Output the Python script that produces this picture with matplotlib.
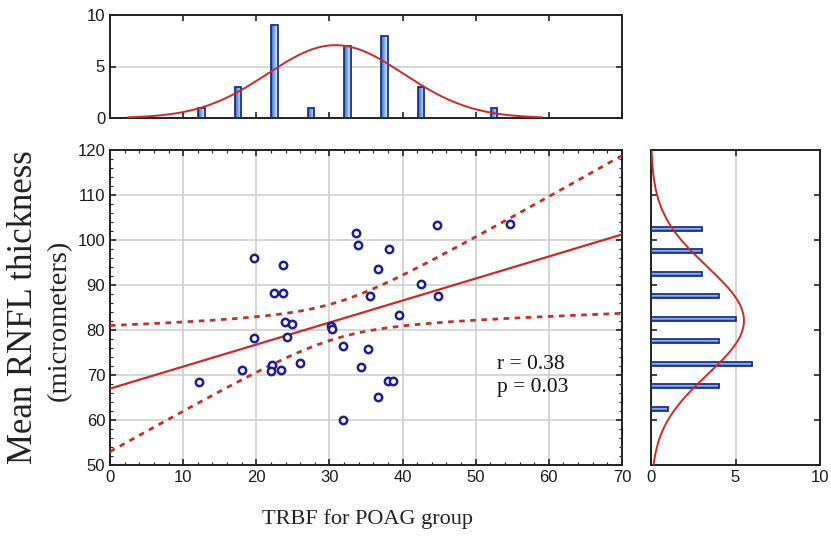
import numpy as np
import matplotlib
matplotlib.use("Agg")
import matplotlib.pyplot as plt
from matplotlib.ticker import AutoMinorLocator
from matplotlib.colors import LinearSegmentedColormap

# ---- data ----
trbf = [19.7, 23.7, 22.4, 23.6, 23.9, 24.9, 19.7, 24.2, 26.0, 18.1, 22.1, 22.0, 23.4, 12.2,
        33.6, 33.9, 44.7, 54.7, 38.2, 36.7, 42.5, 35.5, 44.9, 39.5, 30.2, 30.4, 31.9, 35.3,
        34.3, 38.0, 38.7, 36.6, 31.9]
rnfl = [95.9, 94.4, 88.2, 88.2, 81.7, 81.3, 78.2, 78.4, 72.7, 71.1, 72.2, 70.9, 71.1, 68.5,
        101.5, 99.0, 103.3, 103.5, 98.1, 93.5, 90.2, 87.5, 87.6, 83.3, 80.9, 80.2, 76.4, 75.8,
        71.8, 68.7, 68.7, 65.2, 60.0]

top_bin_centers = [12.5, 17.5, 22.5, 27.5, 32.5, 37.5, 42.5, 52.5]
top_counts = [1, 3, 9, 1, 7, 8, 3, 1]
right_bin_centers = [62.5, 67.5, 72.5, 77.5, 82.5, 87.5, 92.5, 97.5, 102.5]
right_counts = [1, 4, 6, 4, 5, 4, 3, 3, 3]

x_ticks = [0, 10, 20, 30, 40, 50, 60, 70]
y_ticks = [50, 60, 70, 80, 90, 100, 110, 120]
hist_ticks = [0, 5, 10]
stats_text = "r = 0.38\np = 0.03"
xlabel = "TRBF for POAG group"
ylabel1 = "Mean RNFL thickness"
ylabel2 = "(micrometers)"

# ---- style ----
W, H = 831, 538
fig = plt.figure(figsize=(W / 100, H / 100), dpi=100)
sans = ["Liberation Sans", "DejaVu Sans"]
serif = ["Liberation Serif", "DejaVu Serif"]
plt.rcParams["font.family"] = sans

red = "#d02828"
navy = "#1c1c9c"
edge_c = "#1a2f8f"
grid_c = "#cfcfcf"
frame_c = "#222222"
cmap = LinearSegmentedColormap.from_list("g", ["#2a6ad0", "#e6f6ff"])

def fr(l, t, r, b):
    return [l / W, 1 - b / H, (r - l) / W, (b - t) / H]

ax = fig.add_axes(fr(110, 150, 622, 465))
axt = fig.add_axes(fr(110, 15, 622, 118))
axr = fig.add_axes(fr(651, 150, 820, 465))

for a in (ax, axt, axr):
    for s in a.spines.values():
        s.set_color(frame_c)
        s.set_linewidth(1.4)
    a.tick_params(direction="in", length=4, width=1.2, colors=frame_c,
                  top=True, right=True, labelsize=12, labelcolor="#1a1a1a")
    a.tick_params(which="minor", direction="in", length=2, width=0.8,
                  top=True, right=True, colors=frame_c)

# ---- main scatter ----
x = np.array(trbf)
y = np.array(rnfl)
n = len(x)
slope, intercept = np.polyfit(x, y, 1)
xs = np.linspace(0, 70, 200)
yfit = intercept + slope * xs
resid = y - (intercept + slope * x)
s_err = np.sqrt(np.sum(resid ** 2) / (n - 2))
tval = 2.04
ci = tval * s_err * np.sqrt(1 / n + (xs - x.mean()) ** 2 / np.sum((x - x.mean()) ** 2))

ax.grid(True, color=grid_c, linewidth=1.2, zorder=0)
ax.plot(xs, yfit, color=red, lw=1.6, zorder=3)
ax.plot(xs, yfit + ci, color="#c0302c", lw=2.0, ls=(0, (2, 2)), zorder=3)
ax.plot(xs, yfit - ci, color="#c0302c", lw=2.0, ls=(0, (2, 2)), zorder=3)
ax.plot(x, y, "o", ms=5.3, mfc="white", mec=navy, mew=1.8, zorder=4, clip_on=False)
ax.set_xlim(0, 70)
ax.set_ylim(50, 120)
ax.set_xticks(x_ticks)
ax.set_yticks(y_ticks)
ax.xaxis.set_minor_locator(AutoMinorLocator(5))
ax.yaxis.set_minor_locator(AutoMinorLocator(5))
ax.text(52.9, 69.7, stats_text, family=serif, fontsize=15.5, va="center", ha="left",
        linespacing=1.3, color="#111111")

fig.text(367 / W, 1 - 519 / H, xlabel, family=serif, fontsize=16, ha="center", va="center",
         color="#222222")
fig.text(24 / W, 1 - 307 / H, ylabel1, family=serif, fontsize=25, ha="center", va="center",
         rotation=90, color="#222222")
fig.text(59 / W, 1 - 320 / H, ylabel2, family=serif, fontsize=20.5, ha="center", va="center",
         rotation=90, color="#222222")

# ---- top histogram ----
bars = axt.bar(top_bin_centers, top_counts, width=0.9, facecolor="none",
               edgecolor=edge_c, linewidth=1.3, zorder=3)
for b in bars:
    x0, y0 = b.get_xy()
    im = axt.imshow(np.linspace(0, 1, 32).reshape(1, -1), cmap=cmap, aspect="auto",
                    extent=[x0, x0 + b.get_width(), y0, y0 + b.get_height()], zorder=2.5)
    im.set_clip_path(b)
mx, sx = x.mean(), x.std(ddof=1)
xc = np.linspace(2.5, 59, 300)
axt.plot(xc, n * 5 * np.exp(-0.5 * ((xc - mx) / sx) ** 2) / (sx * np.sqrt(2 * np.pi)),
         color=red, lw=1.4, zorder=4)
axt.set_xlim(0, 70)
axt.set_ylim(0, 10)
axt.set_xticks(x_ticks)
axt.set_yticks(hist_ticks)
axt.tick_params(labelbottom=False)
axt.yaxis.grid(True, color=grid_c, lw=1.2, zorder=0)

# ---- right histogram ----
rbars = axr.barh(right_bin_centers, right_counts, height=0.9, facecolor="none",
                 edgecolor=edge_c, linewidth=1.3, zorder=3)
for b in rbars:
    x0, y0 = b.get_xy()
    im = axr.imshow(np.linspace(0, 1, 32).reshape(-1, 1), cmap=cmap, aspect="auto",
                    origin="lower",
                    extent=[x0, x0 + b.get_width(), y0, y0 + b.get_height()], zorder=2.5)
    im.set_clip_path(b)
my, sy = y.mean(), y.std(ddof=1)
yc = np.linspace(50, 120, 300)
axr.plot(n * 5 * np.exp(-0.5 * ((yc - my) / sy) ** 2) / (sy * np.sqrt(2 * np.pi)), yc,
         color=red, lw=1.4, zorder=4)
axr.set_xlim(0, 10)
axr.set_ylim(50, 120)
axr.set_xticks(hist_ticks)
axr.set_yticks(y_ticks)
axr.tick_params(labelleft=False)
axr.xaxis.grid(True, color=grid_c, lw=1.2, zorder=0)

fig.savefig("out.png", dpi=100)
